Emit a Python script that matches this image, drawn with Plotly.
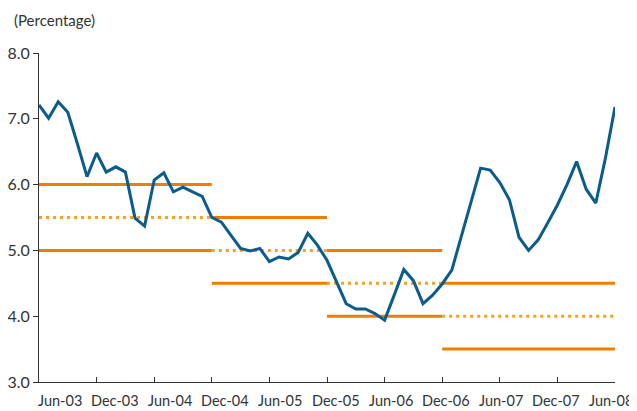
import pandas as pd
import plotly.graph_objects as go

# monthly categories Jun-03 .. Jun-08
months = list(pd.date_range('2003-06-01', '2008-06-01', freq='MS').strftime('%b-%y'))

inflation = [7.21, 7.01, 7.26, 7.10, 6.62, 6.12, 6.48, 6.19, 6.27, 6.19,
             5.49, 5.37, 6.07, 6.18, 5.89, 5.96, 5.89, 5.82, 5.50, 5.43,
             5.23, 5.03, 4.99, 5.03, 4.83, 4.90, 4.87, 4.97, 5.26, 5.08,
             4.85, 4.52, 4.19, 4.11, 4.11, 4.04, 3.94, 4.32, 4.71, 4.54,
             4.19, 4.32, 4.49, 4.70, 5.21, 5.74, 6.25, 6.22, 6.03, 5.77,
             5.20, 5.00, 5.16, 5.42, 5.69, 6.00, 6.35, 5.93, 5.72, 6.40,
             7.18]

# target ranges
band_start = ['Jun-03', 'Dec-04', 'Dec-05', 'Dec-06']
band_end = ['Dec-04', 'Dec-05', 'Dec-06', 'Jun-08']
band_low = [5.0, 4.5, 4.0, 3.5]
band_mid = [5.5, 5.0, 4.5, 4.0]
band_high = [6.0, 5.5, 5.0, 4.5]

tick_labels = ['Jun-03', 'Dec-03', 'Jun-04', 'Dec-04', 'Jun-05', 'Dec-05',
               'Jun-06', 'Dec-06', 'Jun-07', 'Dec-07', 'Jun-08']
y_ticks = [3.0, 4.0, 5.0, 6.0, 7.0, 8.0]

ORANGE = '#ef7d00'
ORANGE_DOT = '#f5a21c'
BLUE = '#0b5c8b'
TEXT = '#333333'
FONT = 'Lato'

fig = go.Figure()

for s, e, lo, mid, hi in zip(band_start, band_end, band_low, band_mid, band_high):
    seg = months[months.index(s):months.index(e) + 1]
    for val in (hi, lo):
        fig.add_trace(go.Scatter(x=[seg[0], seg[-1]], y=[val, val], mode='lines',
                                 line=dict(color=ORANGE, width=3), hoverinfo='skip'))
    fig.add_trace(go.Scatter(x=[seg[0], seg[-1]], y=[mid, mid], mode='lines',
                             line=dict(color=ORANGE_DOT, width=3, dash='3px,4px'),
                             hoverinfo='skip'))

fig.add_trace(go.Scatter(x=months, y=inflation, mode='lines',
                         line=dict(color=BLUE, width=3)))

fig.update_xaxes(type='category', categoryorder='array', categoryarray=months,
                 range=[0, len(months) - 1], showline=True, linecolor=TEXT, linewidth=1,
                 ticks='inside', ticklen=5, tickcolor=TEXT, tickvals=tick_labels,
                 showticklabels=False, showgrid=False, zeroline=False, automargin=False)
fig.update_yaxes(range=[3, 8], tickvals=y_ticks, ticktext=['%.1f' % v for v in y_ticks],
                 showline=True, linecolor=TEXT, linewidth=1, ticks='outside', ticklen=5,
                 tickcolor=TEXT, showgrid=False, zeroline=False, automargin=False,
                 tickfont=dict(family=FONT, size=16, color=TEXT))

# x labels drift left of their ticks, as in the original
for i, lab in enumerate(tick_labels):
    fig.add_annotation(x=lab, y=0, xref='x', yref='paper', text=lab, showarrow=False,
                       xanchor='center', yanchor='middle', yshift=-18,
                       xshift=21 - 2.5 * i,
                       font=dict(family=FONT, size=14.5, color=TEXT))

fig.add_annotation(x=-27 / 576, y=1, xref='paper', yref='paper', text='(Percentage)',
                   showarrow=False, xanchor='left', yanchor='middle', yshift=33,
                   font=dict(family=FONT, size=15, color=TEXT))

# page body adds an 8px offset, so the figure is 8px smaller
fig.update_layout(width=629, height=403, showlegend=False,
                  margin=dict(l=31, r=22, t=45, b=29, autoexpand=False),
                  plot_bgcolor='white', paper_bgcolor='white')

fig.write_html('out.html')
